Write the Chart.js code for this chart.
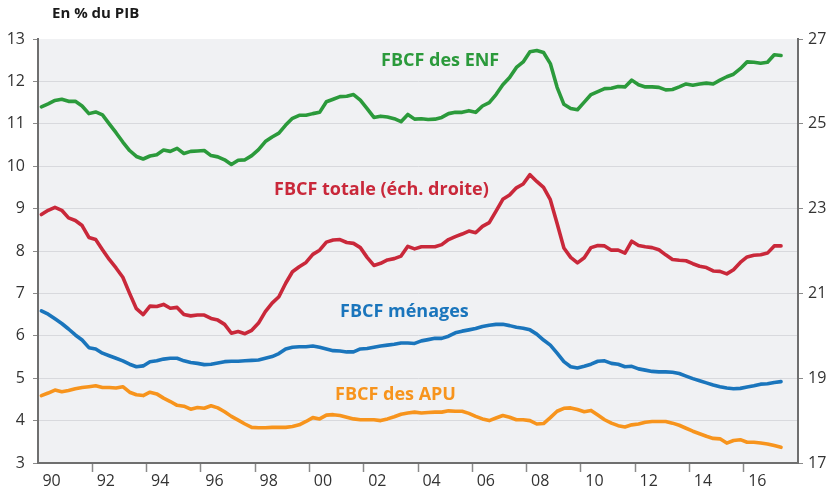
<!DOCTYPE html>
<html>
<head>
<meta charset="utf-8">
<script src="https://cdn.jsdelivr.net/npm/chart.js@4/dist/chart.umd.min.js"></script>
<style>
html,body{margin:0;padding:0;background:#ffffff;}
#wrap{width:834px;height:493px;position:relative;}
canvas{display:block;}
</style>
</head>
<body>
<div id="wrap"><canvas id="c" width="834" height="493"></canvas></div>
<script>
// ---- Categories: quarters 1990T1 .. 2017T2 ----
const quarters = [];
for (let y = 1990; y <= 2017; y++) {
  for (let q = 1; q <= 4; q++) {
    if (y === 2017 && q > 2) break;
    quarters.push(y + 'T' + q);
  }
}

// ---- Tick labels ----
const yearLabels = ['90','92','94','96','98','00','02','04','06','08','10','12','14','16'];
const leftTicks = [3,4,5,6,7,8,9,10,11,12,13];
const rightTicks = [17,19,21,23,25,27];

// ---- Series (% du PIB) ----
const fbcfENF = [
11.40,11.47,11.55,11.58,11.53,11.53,11.42,11.24,11.28,11.21,
11.00,10.79,10.57,10.37,10.23,10.17,10.24,10.27,10.38,10.35,
10.42,10.30,10.35,10.36,10.37,10.25,10.22,10.15,10.04,10.14,
10.15,10.25,10.39,10.58,10.69,10.78,10.97,11.13,11.20,11.20,
11.24,11.27,11.52,11.58,11.64,11.65,11.69,11.56,11.36,11.15,
11.18,11.16,11.12,11.05,11.22,11.11,11.12,11.10,11.11,11.15,
11.24,11.27,11.27,11.31,11.27,11.42,11.50,11.69,11.92,12.09,
12.33,12.46,12.70,12.73,12.68,12.42,11.86,11.46,11.36,11.33,
11.51,11.69,11.76,11.83,11.84,11.88,11.87,12.03,11.92,11.87,
11.87,11.86,11.80,11.81,11.87,11.94,11.91,11.94,11.96,11.94,
12.03,12.11,12.17,12.30,12.46,12.45,12.43,12.45,12.63,12.61
];
// FBCF totale, right-hand scale
const fbcfTotale = [
22.86,22.96,23.03,22.96,22.78,22.72,22.60,22.32,22.27,22.03,
21.80,21.60,21.38,21.00,20.64,20.50,20.70,20.69,20.74,20.65,
20.67,20.50,20.47,20.49,20.49,20.41,20.37,20.27,20.06,20.10,
20.05,20.13,20.30,20.57,20.77,20.92,21.24,21.51,21.63,21.73,
21.92,22.02,22.21,22.26,22.27,22.20,22.18,22.08,21.85,21.66,
21.71,21.79,21.82,21.88,22.11,22.05,22.10,22.10,22.10,22.15,
22.27,22.34,22.40,22.47,22.43,22.58,22.67,22.94,23.22,23.32,
23.49,23.58,23.80,23.64,23.50,23.21,22.65,22.07,21.85,21.72,
21.84,22.08,22.13,22.12,22.02,22.02,21.95,22.23,22.13,22.10,
22.08,22.03,21.91,21.80,21.78,21.77,21.70,21.64,21.61,21.53,
21.52,21.46,21.56,21.73,21.86,21.90,21.91,21.95,22.12,22.12
];
const fbcfMenages = [
6.59,6.51,6.40,6.29,6.16,6.02,5.90,5.72,5.69,5.59,
5.53,5.47,5.41,5.33,5.27,5.29,5.39,5.41,5.45,5.47,
5.47,5.41,5.37,5.35,5.32,5.33,5.36,5.39,5.40,5.40,
5.41,5.42,5.43,5.47,5.51,5.58,5.69,5.73,5.74,5.74,
5.76,5.73,5.69,5.65,5.64,5.62,5.62,5.69,5.70,5.73,
5.76,5.78,5.80,5.83,5.83,5.82,5.88,5.91,5.94,5.94,
5.99,6.07,6.11,6.14,6.17,6.22,6.25,6.27,6.27,6.24,
6.20,6.18,6.14,6.04,5.90,5.78,5.59,5.39,5.27,5.24,
5.28,5.33,5.40,5.41,5.35,5.33,5.27,5.28,5.22,5.19,
5.16,5.15,5.15,5.14,5.11,5.05,4.99,4.94,4.89,4.84,
4.80,4.77,4.75,4.76,4.79,4.82,4.86,4.87,4.90,4.92
];
const fbcfAPU = [
4.59,4.65,4.72,4.68,4.71,4.75,4.78,4.80,4.82,4.78,
4.78,4.77,4.80,4.67,4.61,4.59,4.67,4.63,4.53,4.45,
4.36,4.34,4.27,4.31,4.29,4.35,4.30,4.21,4.10,4.01,
3.92,3.84,3.83,3.83,3.84,3.84,3.84,3.86,3.90,3.98,
4.07,4.04,4.13,4.14,4.12,4.08,4.04,4.02,4.02,4.02,
4.00,4.04,4.09,4.15,4.18,4.20,4.18,4.19,4.20,4.20,
4.23,4.22,4.22,4.17,4.10,4.04,4.00,4.06,4.12,4.08,
4.02,4.02,4.00,3.92,3.93,4.07,4.22,4.29,4.30,4.26,
4.21,4.24,4.13,4.02,3.94,3.88,3.85,3.90,3.92,3.96,
3.98,3.98,3.98,3.94,3.89,3.82,3.75,3.69,3.63,3.58,
3.57,3.47,3.53,3.55,3.49,3.49,3.47,3.45,3.41,3.37
];

// quarter label -> decimal year (middle of the quarter)
function qToX(label) {
  const [y, q] = label.split('T').map(Number);
  return y + (q - 0.5) / 4;
}
function pts(series) {
  return series.map((v, i) => ({ x: qToX(quarters[i]), y: v }));
}

// label ticks at mid-year of even years, tick marks at even-year boundaries
const labelTickValues = yearLabels.map(l => {
  const n = Number(l);
  return (n >= 50 ? 1900 + n : 2000 + n) + 0.5;
});
const markTickValues = labelTickValues.slice(1).map(v => v - 0.5);
const xTickValues = labelTickValues.concat(markTickValues).sort((a, b) => a - b);

const COLORS = {
  enf: '#2b9a3b',
  tot: '#c9283a',
  men: '#1a75bc',
  apu: '#f7941d'
};
const AXIS = '#6f6f6f';
const TICKTXT = '#333333';
const FONT = "'Open Sans', 'DejaVu Sans', sans-serif";

const bgPlugin = {
  id: 'bg',
  beforeDraw(chart) {
    const { ctx, chartArea: a } = chart;
    ctx.save();
    ctx.fillStyle = '#f0f1f3';
    ctx.fillRect(a.left, a.top, a.right - a.left, a.bottom - a.top);
    ctx.restore();
  }
};

const textPlugin = {
  id: 'texts',
  afterDatasetsDraw(chart) {
    const ctx = chart.ctx;
    ctx.save();
    ctx.textBaseline = 'middle';
    ctx.textAlign = 'left';
    ctx.fillStyle = '#1a1a1a';
    ctx.font = "bold 15px " + FONT;
    ctx.fillText('En % du PIB', 52, 14);
    ctx.font = "bold 18px " + FONT;
    const labels = [
      ['FBCF des ENF', COLORS.enf, 381, 61],
      ['FBCF totale (éch. droite)', COLORS.tot, 274, 190],
      ['FBCF ménages', COLORS.men, 340, 312],
      ['FBCF des APU', COLORS.apu, 335, 395]
    ];
    labels.forEach(([t, c, x, y]) => {
      ctx.fillStyle = c;
      ctx.fillText(t, x, y);
    });
    ctx.restore();
  }
};

const lineDs = (label, data, color, axis) => ({
  label, data: pts(data), yAxisID: axis,
  borderColor: color, backgroundColor: color,
  borderWidth: 3.6, pointRadius: 0, tension: 0,
  borderJoinStyle: 'round', borderCapStyle: 'round', fill: false
});

new Chart(document.getElementById('c'), {
  type: 'line',
  data: {
    datasets: [
      lineDs('FBCF des ENF', fbcfENF, COLORS.enf, 'y'),
      lineDs('FBCF totale (éch. droite)', fbcfTotale, COLORS.tot, 'y2'),
      lineDs('FBCF ménages', fbcfMenages, COLORS.men, 'y'),
      lineDs('FBCF des APU', fbcfAPU, COLORS.apu, 'y')
    ]
  },
  options: {
    responsive: false,
    animation: false,
    devicePixelRatio: 1,
    layout: { padding: { top: 39, left: 0, right: 0, bottom: 0 } },
    plugins: { legend: { display: false }, tooltip: { enabled: false } },
    scales: {
      x: {
        type: 'linear', position: 'bottom', min: 1990, max: 2018,
        afterBuildTicks: s => { s.ticks = xTickValues.map(v => ({ value: v })); },
        afterFit: s => { s.height = 30; },
        ticks: {
          autoSkip: false, maxRotation: 0, minRotation: 0, padding: 0,
          color: TICKTXT, font: { family: FONT, size: 16 },
          callback: v => {
            if (Number.isInteger(v)) return '';
            const i = labelTickValues.indexOf(v);
            return i >= 0 ? yearLabels[i] : '';
          }
        },
        grid: {
          drawOnChartArea: false, drawTicks: true, tickLength: 9, tickWidth: 1.5,
          tickColor: c => (c.tick && Number.isInteger(c.tick.value)) ? '#8a8a8a' : 'rgba(0,0,0,0)'
        },
        border: { display: true, color: AXIS, width: 2 }
      },
      y: {
        type: 'linear', position: 'left', min: 3, max: 13,
        afterBuildTicks: s => { s.ticks = leftTicks.map(v => ({ value: v })); },
        afterFit: s => { s.width = 38; },
        ticks: { padding: 8, color: TICKTXT, font: { family: FONT, size: 16 } },
        grid: {
          color: c => (c.tick && (c.tick.value === 13 || c.tick.value === 3)) ? 'rgba(0,0,0,0)' : '#d8d9dd',
          lineWidth: 1, tickLength: 5, tickColor: '#8a8a8a'
        },
        border: { display: true, color: AXIS, width: 2 }
      },
      y2: {
        type: 'linear', position: 'right', min: 17, max: 27,
        afterBuildTicks: s => { s.ticks = rightTicks.map(v => ({ value: v })); },
        afterFit: s => { s.width = 36; },
        ticks: { padding: 5, color: TICKTXT, font: { family: FONT, size: 16 } },
        grid: { drawOnChartArea: false, tickLength: 5, tickColor: '#8a8a8a' },
        border: { display: true, color: AXIS, width: 2 }
      }
    }
  },
  plugins: [bgPlugin, textPlugin]
});
</script>
</body>
</html>
